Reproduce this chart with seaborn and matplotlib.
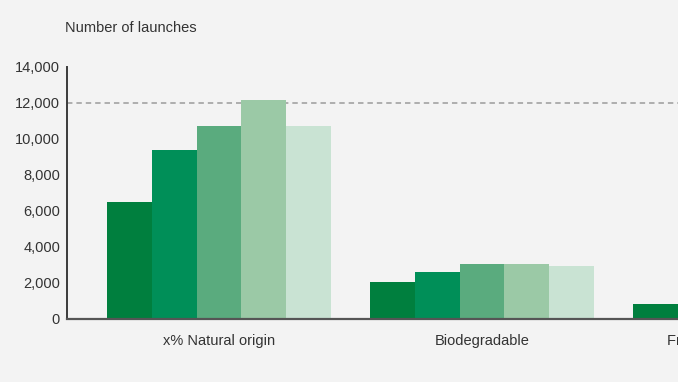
import matplotlib
matplotlib.use('Agg')
import matplotlib.pyplot as plt
import matplotlib.ticker as mticker
import pandas as pd
import seaborn as sns

# Values (third group is mostly cut off)
categories = ['x% Natural origin', 'Biodegradable', 'Free from preservatives']
years = ['2011', '2012', '2013', '2014', '2015']
natural_origin = [6500, 9400, 10700, 12150, 10700]
biodegradable = [2050, 2600, 3050, 3050, 2950]
free_from = [850, 1350, 1700, 1900, 1800]
colors = ['#007f3e', '#008f58', '#5aab7e', '#9bc9a6', '#c9e3d3']
ref_line = 12000

rows = []
for cat, vals in zip(categories, [natural_origin, biodegradable, free_from]):
  for yr, v in zip(years, vals):
    rows.append({'category': cat, 'year': yr, 'launches': v})
df = pd.DataFrame(rows)

sns.set_style('white')
plt.rcParams['font.family'] = ['Liberation Sans', 'DejaVu Sans']
bg = '#f3f3f3'

fig = plt.figure(figsize=(6.78, 3.82), dpi=100, facecolor=bg)
# axes run past the right edge on purpose, the reference is cropped there
x0, x1 = -0.578, 2.6
px_per_unit = 263
w = (x1 - x0) * px_per_unit / 678
ax = fig.add_axes([67 / 678, 63 / 382, w, 252 / 382])
ax.set_facecolor(bg)

sns.barplot(data=df, x='category', y='launches', hue='year',
            palette=colors, width=0.85, saturation=1, legend=False,
            linewidth=0, ax=ax)

ax.axhline(ref_line, color='#a8a8a8', lw=1.3, ls=(0, (3, 2.2)), zorder=0)

ax.set_xlim(x0, x1)
ax.set_ylim(0, 14000)
ax.set_yticks(range(0, 14001, 2000))
ax.yaxis.set_major_formatter(mticker.FuncFormatter(lambda v, p: f'{int(v):,}'))
ax.set_xlabel('')
ax.set_ylabel('')
for s in ['top', 'right']:
  ax.spines[s].set_visible(False)
ax.spines['left'].set_color('#3a3a3a')
ax.spines['left'].set_linewidth(1.4)
ax.spines['bottom'].set_color('#555555')
ax.spines['bottom'].set_linewidth(1.6)
ax.tick_params(axis='y', direction='in', length=4, width=1.2, color='#3a3a3a',
               labelsize=10.5, labelcolor='#333333', pad=5)
ax.tick_params(axis='x', length=0, labelsize=10.5, labelcolor='#333333', pad=11)

fig.text(65 / 678, 1 - 28 / 382, 'Number of launches', fontsize=10.5,
         color='#333333', va='center', ha='left')

fig.savefig('out.png', dpi=100, facecolor=bg)
